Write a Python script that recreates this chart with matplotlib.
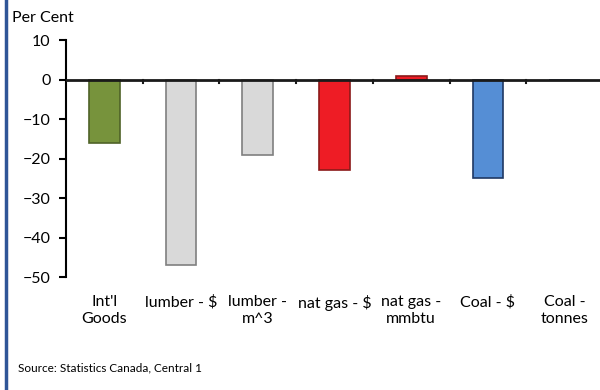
import matplotlib
matplotlib.use("Agg")
import matplotlib.pyplot as plt
from matplotlib.lines import Line2D

plt.rcParams['font.family'] = ['Lato', 'DejaVu Sans']

categories = ["Int'l\nGoods", "lumber - $", "lumber -\nm^3", "nat gas - $",
              "nat gas -\nmmbtu", "Coal - $", "Coal -\ntonnes"]
values = [-16, -47, -19, -23, 1, -25, 0]
face_colors = ["#77933C", "#D9D9D9", "#D9D9D9", "#EE1C25", "#EE1C25", "#558ED5", "#558ED5"]
edge_colors = ["#4F6228", "#7F7F7F", "#7F7F7F", "#8B1A1A", "#8B1A1A", "#1F3864", "#1F3864"]

fig = plt.figure(figsize=(6, 3.9), dpi=100)
ax = fig.add_axes([0.11, 0.2897, 0.895, 0.6077])

x = list(range(len(categories)))
ax.bar(x, values, width=0.4, color=face_colors, edgecolor=edge_colors, linewidth=1.2, zorder=2)

ax.set_xlim(-0.5, len(categories) - 0.5)
ax.set_ylim(-50, 10)
ax.set_yticks(range(-50, 11, 10))
ax.tick_params(axis='y', direction='out', length=5, width=1.5, labelsize=11.5, pad=6)

# category axis drawn along zero with ticks between categories
for s in ['top', 'right', 'bottom']:
    ax.spines[s].set_visible(False)
ax.spines['left'].set_linewidth(1.5)
ax.axhline(0, color='#1a1a1a', linewidth=2, zorder=3)
for k in range(1, len(categories)):
    ax.plot([k - 0.5, k - 0.5], [0, -1], color='#1a1a1a', linewidth=1.5, zorder=3, clip_on=False)

ax.set_xticks(x)
ax.set_xticklabels(categories, fontsize=11.5, va='top', linespacing=1.25)
ax.tick_params(axis='x', length=0, pad=13)

fig.text(0.02, 0.953, "Per Cent", fontsize=11.5, va='center', ha='left')
fig.text(0.03, 0.057, "Source: Statistics Canada, Central 1", fontsize=8.5, va='center', ha='left')

# left border rule
fig.add_artist(Line2D([0.01, 0.01], [0, 1], color='#2F5597', linewidth=2.5, transform=fig.transFigure))

fig.savefig("out.png", dpi=100)
